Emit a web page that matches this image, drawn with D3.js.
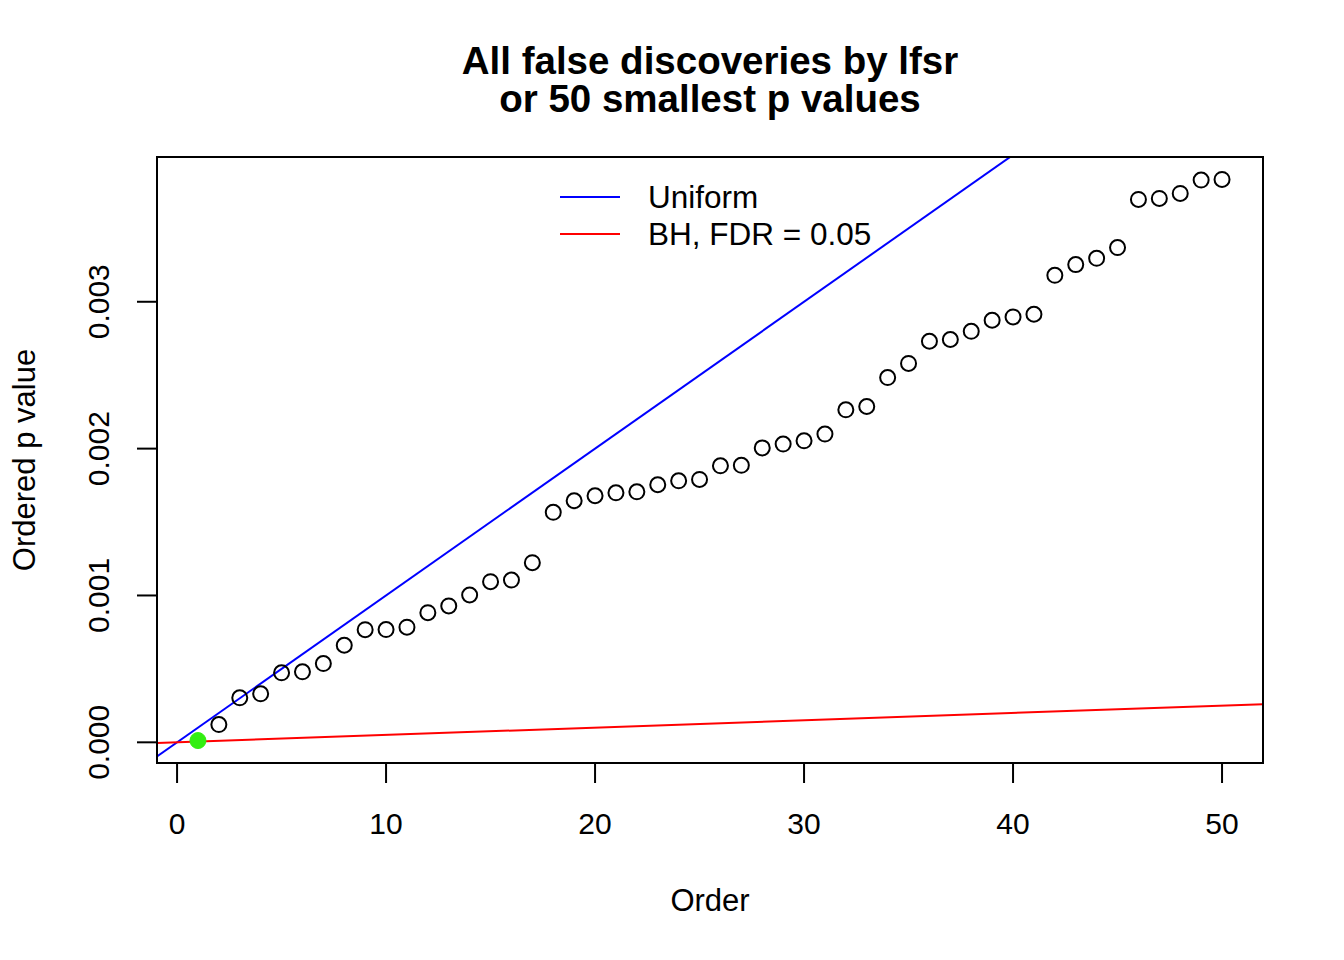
<!DOCTYPE html>
<html>
<head>
<meta charset="utf-8">
<script src="https://cdn.jsdelivr.net/npm/d3@7"></script>
<style>
  html, body { margin: 0; padding: 0; background: #fff; }
  svg { display: block; font-family: "Liberation Sans", Arial, Helvetica, sans-serif; }
</style>
</head>
<body>
<svg id="chart" width="1344" height="960"></svg>
<script>
// ---- data ----
const order = d3.range(1, 51);
const pValues = [
  0.000012, 0.000121, 0.000303, 0.000330, 0.000473, 0.000480, 0.000536, 0.000661, 0.000767, 0.000768,
  0.000784, 0.000883, 0.000929, 0.001003, 0.001094, 0.001105, 0.001223, 0.001566, 0.001645, 0.001679,
  0.001699, 0.001706, 0.001754, 0.001781, 0.001790, 0.001883, 0.001886, 0.002005, 0.002031, 0.002053,
  0.002099, 0.002264, 0.002287, 0.002484, 0.002580, 0.002731, 0.002743, 0.002799, 0.002874, 0.002897,
  0.002915, 0.003180, 0.003253, 0.003296, 0.003369, 0.003697, 0.003704, 0.003738, 0.003829, 0.003833
];
const discoveries = [1];            // orders flagged as (false) discoveries by lfsr
const nTests = 10000;               // uniform line slope = 1/nTests
const fdr = 0.05;                   // BH line slope = fdr/nTests
const xTicks = [0, 10, 20, 30, 40, 50];
const yTicks = [0, 0.001, 0.002, 0.003];
const legendLabels = ["Uniform", "BH, FDR = 0.05"];
const legendColors = ["#0000ff", "#ff0000"];
const titleLines = ["All false discoveries by lfsr", "or 50 smallest p values"];

// ---- layout ----
const svg = d3.select("#chart");
const L = 157, R = 1263, T = 157, B = 763;

const xMin = d3.min(order), xMax = d3.max(order);
const xPad = (xMax - xMin) * 0.04;
const yMin = d3.min(pValues), yMax = d3.max(pValues);
const yPad = (yMax - yMin) * 0.04;

const x = d3.scaleLinear().domain([xMin - xPad, xMax + xPad]).range([L, R]);
const y = d3.scaleLinear().domain([yMin - yPad, yMax + yPad]).range([B, T]);

svg.append("defs").append("clipPath").attr("id", "clip")
  .append("rect").attr("x", L).attr("y", T).attr("width", R - L).attr("height", B - T);

const plot = svg.append("g").attr("clip-path", "url(#clip)");

// reference lines
const xd = x.domain();
const lineGen = d3.line().x(d => x(d[0])).y(d => y(d[1]));
plot.append("path")
  .attr("d", lineGen(xd.map(v => [v, v / nTests])))
  .attr("stroke", legendColors[0]).attr("stroke-width", 2).attr("fill", "none");
plot.append("path")
  .attr("d", lineGen(xd.map(v => [v, v * fdr / nTests])))
  .attr("stroke", legendColors[1]).attr("stroke-width", 2).attr("fill", "none");

// points
const pts = order.map((o, i) => ({ o, p: pValues[i], disc: discoveries.includes(o) }));
plot.selectAll("circle.pt").data(pts.filter(d => !d.disc)).join("circle")
  .attr("class", "pt")
  .attr("cx", d => x(d.o)).attr("cy", d => y(d.p)).attr("r", 7.5)
  .attr("fill", "none").attr("stroke", "#000").attr("stroke-width", 2);
plot.selectAll("circle.disc").data(pts.filter(d => d.disc)).join("circle")
  .attr("class", "disc")
  .attr("cx", d => x(d.o)).attr("cy", d => y(d.p)).attr("r", 8)
  .attr("fill", "#33ee11").attr("stroke", "#33ee11").attr("stroke-width", 1);

// box
svg.append("rect").attr("x", L).attr("y", T).attr("width", R - L).attr("height", B - T)
  .attr("fill", "none").attr("stroke", "#000").attr("stroke-width", 2);

// x axis
const gx = svg.append("g");
gx.append("line").attr("x1", x(xTicks[0])).attr("x2", x(xTicks[xTicks.length - 1]))
  .attr("y1", B).attr("y2", B).attr("stroke", "#000").attr("stroke-width", 2);
gx.selectAll("line.tk").data(xTicks).join("line").attr("class", "tk")
  .attr("x1", d => x(d)).attr("x2", d => x(d)).attr("y1", B).attr("y2", B + 20)
  .attr("stroke", "#000").attr("stroke-width", 2);
gx.selectAll("text").data(xTicks).join("text")
  .attr("x", d => x(d)).attr("y", 834).attr("text-anchor", "middle")
  .attr("font-size", 30).text(d => d);

// y axis
const gy = svg.append("g");
gy.append("line").attr("y1", y(yTicks[0])).attr("y2", y(yTicks[yTicks.length - 1]))
  .attr("x1", L).attr("x2", L).attr("stroke", "#000").attr("stroke-width", 2);
gy.selectAll("line.tk").data(yTicks).join("line").attr("class", "tk")
  .attr("y1", d => y(d)).attr("y2", d => y(d)).attr("x1", L).attr("x2", L - 20)
  .attr("stroke", "#000").attr("stroke-width", 2);
gy.selectAll("text").data(yTicks).join("text")
  .attr("transform", d => `translate(109,${y(d)}) rotate(-90)`)
  .attr("text-anchor", "middle").attr("font-size", 30)
  .text(d => d3.format(".3f")(d));

// axis titles
svg.append("text").attr("x", (L + R) / 2).attr("y", 911).attr("text-anchor", "middle")
  .attr("font-size", 31).text("Order");
svg.append("text").attr("transform", `translate(35,${(T + B) / 2}) rotate(-90)`)
  .attr("text-anchor", "middle").attr("font-size", 31).text("Ordered p value");

// title (one text element, two lines)
const title = svg.append("text").attr("class", "title")
  .attr("x", (L + R) / 2).attr("y", 74)
  .attr("text-anchor", "middle").attr("font-size", 38.5).attr("font-weight", "bold");
title.selectAll("tspan").data(titleLines).join("tspan")
  .attr("x", (L + R) / 2).attr("dy", (d, i) => i === 0 ? 0 : 38)
  .text(d => d);

// legend
const lg = svg.append("g");
legendLabels.forEach((lab, i) => {
  const ly = 197 + i * 37;
  lg.append("line").attr("x1", 560).attr("x2", 620).attr("y1", ly).attr("y2", ly)
    .attr("stroke", legendColors[i]).attr("stroke-width", 2);
  lg.append("text").attr("x", 648).attr("y", ly + 11).attr("font-size", 31.5).text(lab);
});
</script>
</body>
</html>
